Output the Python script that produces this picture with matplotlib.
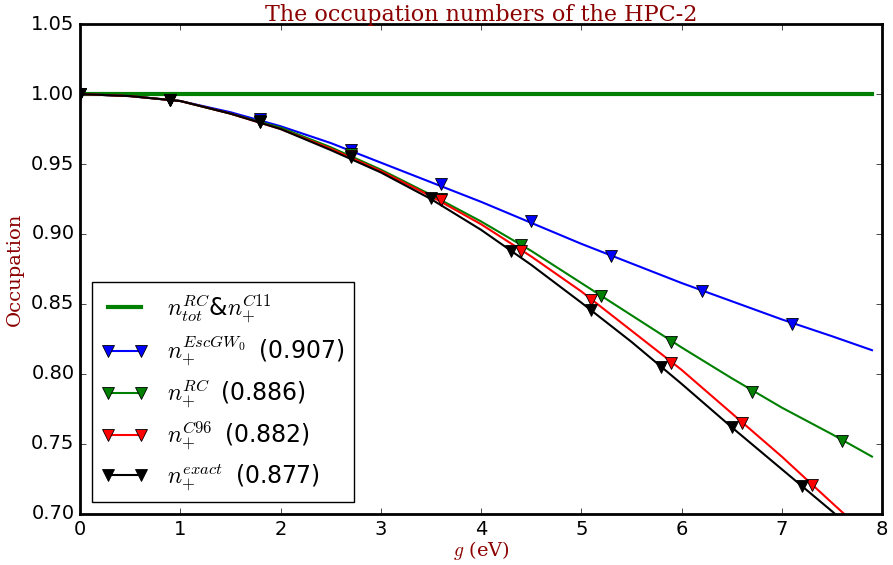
import matplotlib
matplotlib.use("Agg")
import matplotlib.pyplot as plt
from matplotlib.lines import Line2D

# curves at 0.5 eV steps
g = [0.0, 0.5, 1.0, 1.5, 2.0, 2.5, 3.0, 3.5, 4.0, 4.5, 5.0, 5.5, 6.0, 6.5, 7.0, 7.5, 7.9]
n_tot = [1.0] * len(g)
n_escgw = [1.0, 0.9985, 0.995, 0.987, 0.977, 0.965, 0.951, 0.937, 0.923, 0.908,
           0.893, 0.879, 0.865, 0.852, 0.839, 0.827, 0.817]
n_rc = [1.0, 0.9985, 0.995, 0.986, 0.976, 0.962, 0.946, 0.928, 0.909, 0.888,
        0.865, 0.842, 0.819, 0.797, 0.776, 0.757, 0.741]
n_c96 = [1.0, 0.9985, 0.995, 0.986, 0.975, 0.961, 0.945, 0.927, 0.907, 0.884,
         0.859, 0.831, 0.803, 0.772, 0.741, 0.708, 0.682]
n_exact = [1.0, 0.9985, 0.995, 0.986, 0.975, 0.960, 0.944, 0.925, 0.903, 0.878,
           0.851, 0.823, 0.793, 0.762, 0.732, 0.702, 0.677]

# marker positions
mx_escgw = [0, 0.9, 1.8, 2.7, 3.6, 4.5, 5.3, 6.2, 7.1]
my_escgw = [1.0, 0.996, 0.982, 0.960, 0.936, 0.909, 0.884, 0.859, 0.836]
mx_rc = [0, 0.9, 1.8, 2.7, 3.6, 4.4, 5.2, 5.9, 6.7, 7.6]
my_rc = [1.0, 0.996, 0.981, 0.957, 0.925, 0.892, 0.856, 0.823, 0.787, 0.752]
mx_c96 = [0, 0.9, 1.8, 2.7, 3.6, 4.4, 5.1, 5.9, 6.6, 7.3]
my_c96 = [1.0, 0.996, 0.980, 0.956, 0.924, 0.888, 0.853, 0.808, 0.765, 0.721]
mx_exact = [0, 0.9, 1.8, 2.7, 3.5, 4.3, 5.1, 5.8, 6.5, 7.2]
my_exact = [1.0, 0.996, 0.980, 0.955, 0.926, 0.888, 0.846, 0.805, 0.762, 0.720]

labels = [r'$n_{tot}^{RC}$&$n_{+}^{C11}$',
          r'$n_{+}^{EscGW_0}$' + '\u2002(0.907)',
          r'$n_{+}^{RC}$' + '\u2002(0.886)',
          r'$n_{+}^{C96}$' + '\u2002(0.882)',
          r'$n_{+}^{exact}$' + '\u2002(0.877)']

plt.style.use('classic')
plt.rcParams['mathtext.fontset'] = 'cm'

fig = plt.figure(figsize=(8.93, 5.65), dpi=100, facecolor='white')
ax = fig.add_subplot(111)
fig.subplots_adjust(left=0.0896, right=0.9877, top=0.9575, bottom=0.0903)

ax.plot(g, n_tot, color='green', lw=3)
series = [(n_escgw, mx_escgw, my_escgw, 'blue'),
          (n_rc, mx_rc, my_rc, 'green'),
          (n_c96, mx_c96, my_c96, 'red'),
          (n_exact, mx_exact, my_exact, 'black')]
handles = [Line2D([], [], color='green', lw=3)]
for ys, mx, my, c in series:
    ax.plot(g, ys, color=c, lw=1.5)
    ax.plot(mx, my, 'v', color=c, ms=8.5, mec='black', mew=0.6, ls='none')
    handles.append(Line2D([], [], color=c, lw=1.5, marker='v', ms=8.5,
                          mec='black', mew=0.6))

ax.set_xlim(0, 8)
ax.set_ylim(0.70, 1.05)
ax.tick_params(labelsize=14)
for s in ax.spines.values():
    s.set_linewidth(2)

ax.set_title('The occupation numbers of the HPC-2', family='DejaVu Serif',
             color='darkred', fontsize=16, pad=2)
ax.set_xlabel('$g$ (eV)', family='DejaVu Serif', color='darkred', fontsize=14,
              labelpad=0)
ax.set_ylabel('Occupation', family='DejaVu Serif', color='darkred', fontsize=14)

ax.legend(handles, labels, loc='lower left', numpoints=2, fontsize=17,
          fancybox=False, labelspacing=0.38)

plt.savefig('out.png', dpi=100, facecolor='white')
